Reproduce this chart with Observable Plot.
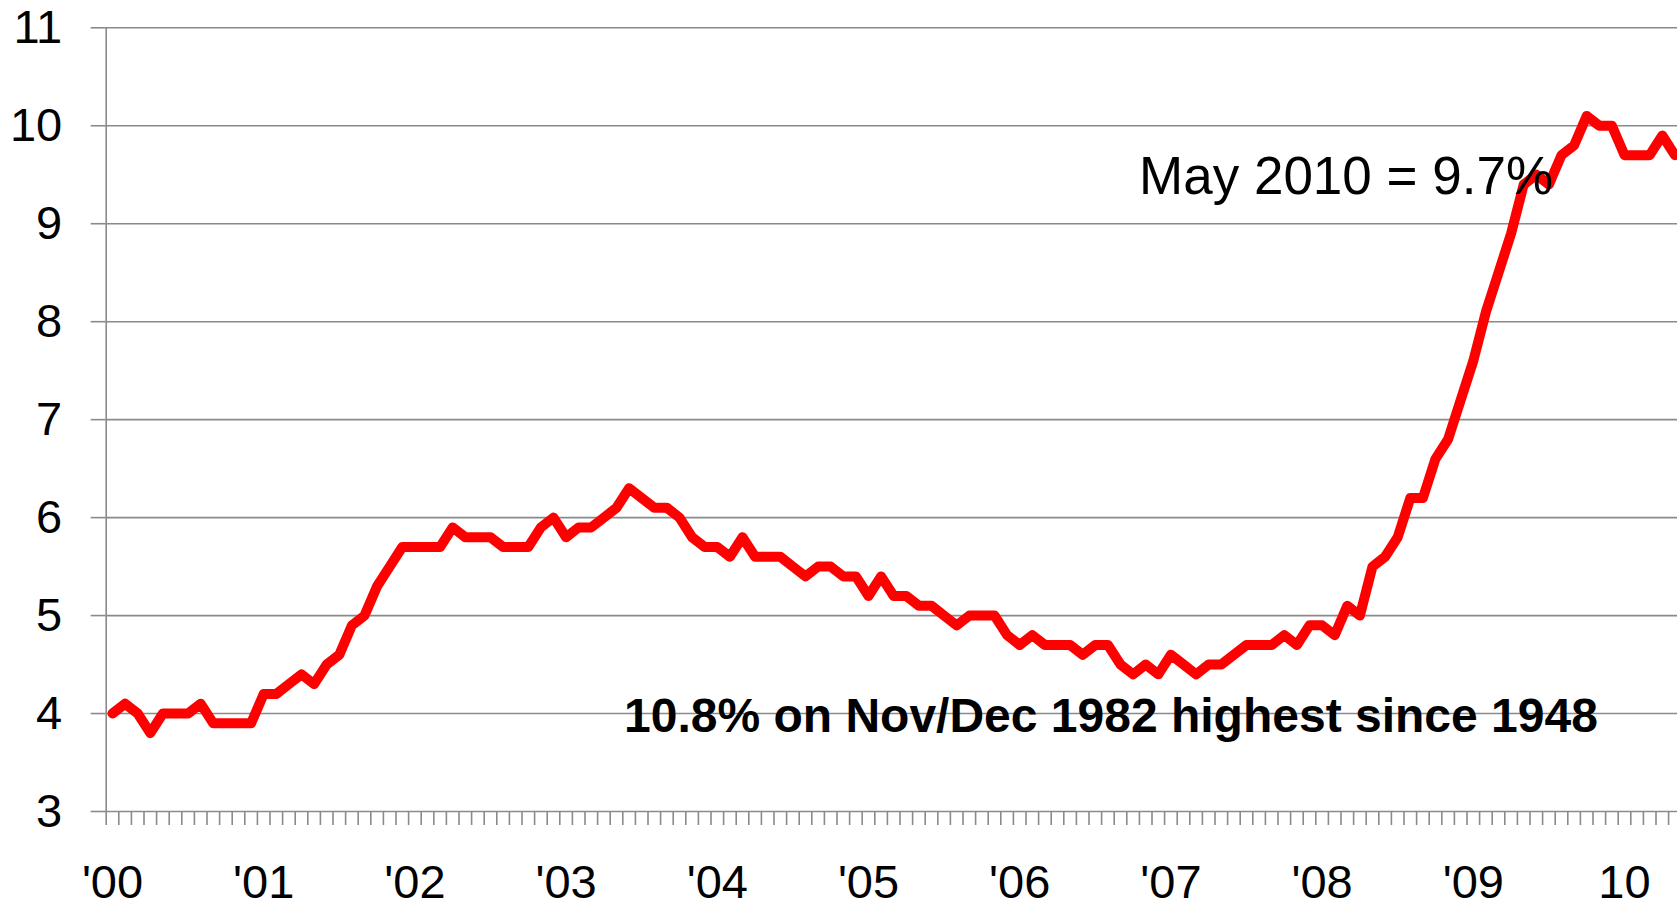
<!DOCTYPE html>
<html>
<head>
<meta charset="utf-8">
<script src="https://cdn.jsdelivr.net/npm/d3@7"></script>
<script src="https://cdn.jsdelivr.net/npm/@observablehq/plot@0.6"></script>
<style>
  html, body { margin: 0; padding: 0; background: #fff; overflow: hidden; }
  #chart svg { display: block; }
</style>
</head>
<body>
<div id="chart"></div>
<script>
// ---- data (US unemployment rate, %, monthly Jan 2000 – May 2010) ----
const yearLabels = ["'00", "'01", "'02", "'03", "'04", "'05", "'06", "'07", "'08", "'09", "10"];
const rate2000 = [4.0, 4.1, 4.0, 3.8, 4.0, 4.0, 4.0, 4.1, 3.9, 3.9, 3.9, 3.9];
const rate2001 = [4.2, 4.2, 4.3, 4.4, 4.3, 4.5, 4.6, 4.9, 5.0, 5.3, 5.5, 5.7];
const rate2002 = [5.7, 5.7, 5.7, 5.9, 5.8, 5.8, 5.8, 5.7, 5.7, 5.7, 5.9, 6.0];
const rate2003 = [5.8, 5.9, 5.9, 6.0, 6.1, 6.3, 6.2, 6.1, 6.1, 6.0, 5.8, 5.7];
const rate2004 = [5.7, 5.6, 5.8, 5.6, 5.6, 5.6, 5.5, 5.4, 5.5, 5.5, 5.4, 5.4];
const rate2005 = [5.2, 5.4, 5.2, 5.2, 5.1, 5.1, 5.0, 4.9, 5.0, 5.0, 5.0, 4.8];
const rate2006 = [4.7, 4.8, 4.7, 4.7, 4.7, 4.6, 4.7, 4.7, 4.5, 4.4, 4.5, 4.4];
const rate2007 = [4.6, 4.5, 4.4, 4.5, 4.5, 4.6, 4.7, 4.7, 4.7, 4.8, 4.7, 4.9];
const rate2008 = [4.9, 4.8, 5.1, 5.0, 5.5, 5.6, 5.8, 6.2, 6.2, 6.6, 6.8, 7.2];
const rate2009 = [7.6, 8.1, 8.5, 8.9, 9.4, 9.5, 9.4, 9.7, 9.8, 10.1, 10.0, 10.0];
const rate2010 = [9.7, 9.7, 9.7, 9.9, 9.7];
const yTicks = [3, 4, 5, 6, 7, 8, 9, 10, 11];
// annotation anchors in data units (month index from Jan 2000, percent)
const noteMay = [{text: "May 2010 = 9.7%", month: 97.9, value: 9.48}];
const noteHigh = [{text: "10.8% on Nov/Dec 1982 highest since 1948", month: 79.24, value: 3.966}];

// ---- derived table ----
const rates = [].concat(rate2000, rate2001, rate2002, rate2003, rate2004, rate2005,
                        rate2006, rate2007, rate2008, rate2009, rate2010);
const table = rates.map((v, i) => ({month: i, rate: v}));
const nMonths = rates.length;
const monthBounds = d3.range(nMonths + 1).map(i => i - 0.5);
const yearTicks = yearLabels.map((_, k) => k * 12);

const gray = "#8a8a8a";
const plotLeft = 105.7, monthStep = 12.6, plotTop = 27.3, plotBottom = 811;

const chart = Plot.plot({
  width: 1677,
  height: 904,
  marginLeft: plotLeft,
  marginRight: 0,
  marginTop: plotTop,
  marginBottom: 904 - plotBottom,
  style: {fontFamily: "'Liberation Sans', Arial, sans-serif", background: "#fff", color: "#000", overflow: "hidden"},
  x: {type: "linear", domain: [-0.5, nMonths - 0.5], range: [plotLeft, plotLeft + nMonths * monthStep]},
  y: {domain: [3, 11], range: [plotBottom, plotTop]},
  marks: [
    Plot.gridY(yTicks.filter(t => t > 3), {stroke: gray, strokeOpacity: 1, strokeWidth: 1.6}),
    Plot.axisY(yTicks, {tickSize: 15, tickPadding: 29, fontSize: 47, stroke: gray, strokeWidth: 1.6, fill: "#000", tickFormat: d => String(d), label: null}),
    Plot.ruleX([-0.5], {stroke: gray, strokeWidth: 1.6}),
    Plot.ruleY([3], {stroke: gray, strokeWidth: 1.6}),
    Plot.axisX(monthBounds, {tickSize: 14, stroke: gray, strokeWidth: 1.6, fill: "none", label: null}),
    Plot.axisX(yearTicks, {tickSize: 0, tickPadding: 53, fontSize: 47, fill: "#000", tickFormat: i => yearLabels[i / 12], label: null}),
    Plot.line(table, {x: "month", y: "rate", stroke: "#ff0000", strokeWidth: 10, strokeLinejoin: "round", strokeLinecap: "round"}),
    Plot.text(noteMay, {x: "month", y: "value", text: "text", fontSize: 53, fill: "#000", textAnchor: "middle", lineAnchor: "middle"}),
    Plot.text(noteHigh, {x: "month", y: "value", text: "text", fontSize: 48, fontWeight: "bold", fill: "#000", textAnchor: "middle", lineAnchor: "middle"})
  ]
});
document.getElementById("chart").appendChild(chart);
</script>
</body>
</html>
